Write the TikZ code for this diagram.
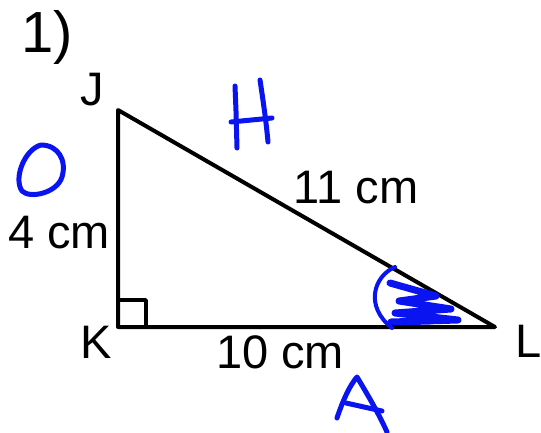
\documentclass[tikz,border=0pt]{standalone}
\usepackage{fontspec}
\setmainfont{Liberation Sans}
\usetikzlibrary{positioning, calc}
\definecolor{figink}{HTML}{000000}
\definecolor{pen}{HTML}{0A14F0}

\begin{document}
\begin{tikzpicture}[
  x=1pt, y=-1pt,
  line width=4pt, line cap=round, line join=round,
  vtx/.style = {inner sep=0pt, anchor=base, font=\fontsize{47}{50}\selectfont, color=figink},
  len/.style = {inner sep=0pt, anchor=base, font=\fontsize{47}{50}\selectfont, color=figink},
  num/.style = {inner sep=0pt, anchor=base, font=\fontsize{58}{60}\selectfont, color=figink},
  ink/.style = {draw=pen, line width=5pt, line cap=round, line join=round},
  scrib/.style = {draw=pen, line width=7pt, line cap=round, line join=round}
]
\useasboundingbox (0,0) rectangle (541,432);

\coordinate (J) at (118,110);
\coordinate (K) at (118,327);
\coordinate (L) at (495,327);

% triangle and right angle
\draw[figink] (J) -- (K) -- (L) -- cycle;
\draw[figink, line width=3.5pt, line cap=butt]
  ($(K)+(0,-27)$) -- ($(K)+(28,-27)$) -- ($(K)+(28,0)$);

% labels
\node[num] (nr) at (47,52) {1)};
\node[vtx] (jl) at (92,105) {J};
\node[vtx] (kl) at (96,358) {K};
\node[vtx] (ll) at (529,357) {L};
\node[len] (opp) at (59,248) {4 cm};
\node[len] (hyp) at (356,203) {11 cm};
\node[len] (adj) at (280,368) {10 cm};

% handwriting
\draw[ink] (41,145) .. controls (25,149) and (13,178) .. (22,191)
  .. controls (30,199) and (57,193) .. (62,177)
  .. controls (67,160) and (58,145) .. (41,145);
\draw[ink] (235,86) -- (236,111) -- (237,148);
\draw[ink] (260,80) .. controls (263,100) and (266,120) .. (268,142);
\draw[ink] (231,122) -- (272,118);
\draw[ink] (337,418) .. controls (343,400) and (350,385) .. (357,377)
  .. controls (366,392) and (378,412) .. (387,432);
\draw[ink] (346,403) -- (382,411);

% angle mark at L
\draw[ink, line width=4pt] (395,267) .. controls (374,276) and (364,306) .. (392,328);
\draw[scrib] (390,283) -- (436,296) -- (399,301) -- (451,309) -- (395,313)
  -- (458,320) -- (391,322) -- (430,321);

\end{tikzpicture}
\end{document}
